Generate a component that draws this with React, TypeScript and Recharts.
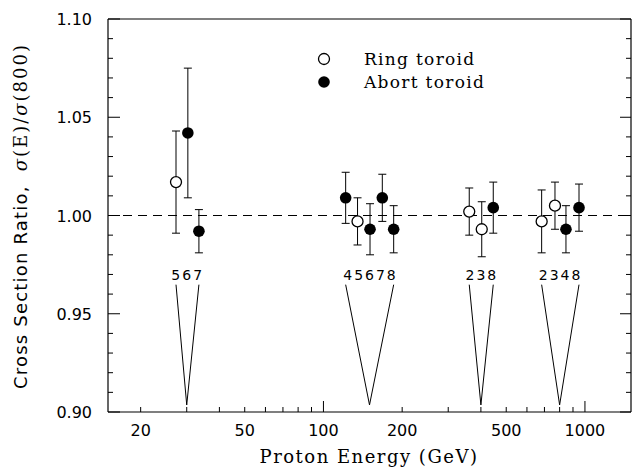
import React from "react";
import {
  ScatterChart,
  Scatter,
  XAxis,
  YAxis,
  ErrorBar,
  ReferenceLine,
  Customized,
} from "recharts";

// ring toroid (open circles)
const ringEnergy = [27.3, 135, 361, 403, 683, 768];
const ringRatio = [1.017, 0.997, 1.002, 0.993, 0.997, 1.005];
const ringError = [0.026, 0.012, 0.012, 0.014, 0.016, 0.012];

// abort toroid (filled circles)
const abortEnergy = [30.3, 33.4, 121.6, 150.7, 167.9, 185.6, 446, 846, 949];
const abortRatio = [1.042, 0.992, 1.009, 0.993, 1.009, 0.993, 1.004, 0.993, 1.004];
const abortError = [0.033, 0.011, 0.013, 0.013, 0.012, 0.012, 0.013, 0.012, 0.012];

// run groups drawn as V markers under the points
const groupLabel = ["567", "45678", "238", "2348"];
const groupRefEnergy = [30, 150, 400, 800];
const groupLowEnergy = [27.3, 121.6, 361, 683];
const groupHighEnergy = [33.4, 185.6, 446, 949];
const groupLabelRatio = 0.967;
const groupTopRatio = 0.9648;
const groupTipRatio = 0.9036;

const xTicks = [20, 30, 40, 50, 60, 70, 80, 90, 100, 200, 300, 400, 500, 600, 700, 800, 900, 1000];
const xLabels = [20, 50, 100, 200, 500, 1000];
const xMajor = [100, 1000];
const yTicks = [
  0.9, 0.91, 0.92, 0.93, 0.94, 0.95, 0.96, 0.97, 0.98, 0.99, 1.0,
  1.01, 1.02, 1.03, 1.04, 1.05, 1.06, 1.07, 1.08, 1.09, 1.1,
];

const SANS = "DejaVu Sans";
const SERIF = "DejaVu Serif";

const ringData = ringEnergy.map((e, i) => ({ energy: e, ratio: ringRatio[i], err: ringError[i] }));
const abortData = abortEnergy.map((e, i) => ({ energy: e, ratio: abortRatio[i], err: abortError[i] }));
const labelData = groupLabel.map((l, i) => ({ energy: groupRefEnergy[i], ratio: groupLabelRatio, label: l }));

const isMajorY = (v: number) => Math.round(v * 100) % 5 === 0;

function BottomTick({ x, y, payload }: any) {
  const v = payload.value;
  return (
    <g>
      <line x1={x} x2={x} y1={y} y2={y - (xMajor.includes(v) ? 11 : 5)} stroke="#000" strokeWidth={1} />
      {xLabels.includes(v) && (
        <text x={x} y={y + 24} textAnchor="middle" fontFamily={SANS} fontSize={16} fill="#000">
          {v}
        </text>
      )}
    </g>
  );
}

function TopTick({ x, y, payload }: any) {
  const v = payload.value;
  return <line x1={x} x2={x} y1={y} y2={y + (xMajor.includes(v) ? 11 : 5)} stroke="#000" strokeWidth={1} />;
}

function LeftTick({ x, y, payload }: any) {
  const v = payload.value;
  const major = isMajorY(v);
  return (
    <g>
      <line x1={x} x2={x + (major ? 12 : 5)} y1={y} y2={y} stroke="#000" strokeWidth={1} />
      {major && (
        <text x={x - 16} y={y + 6} textAnchor="end" fontFamily={SANS} fontSize={16} fill="#000">
          {v.toFixed(2)}
        </text>
      )}
    </g>
  );
}

function RightTick({ x, y, payload }: any) {
  const v = payload.value;
  return <line x1={x} x2={x - (isMajorY(v) ? 11 : 5)} y1={y} y2={y} stroke="#000" strokeWidth={1} />;
}

const OpenDot = (p: any) => (
  <circle cx={p.cx} cy={p.cy} r={5.5} fill="#fff" stroke="#000" strokeWidth={1.3} />
);
const FilledDot = (p: any) => <circle cx={p.cx} cy={p.cy} r={5.8} fill="#000" />;
const GroupText = (p: any) => (
  <text x={p.cx + 1} y={p.cy} textAnchor="middle" fontFamily={SANS} fontSize={14} letterSpacing={2} fill="#000">
    {p.payload.label}
  </text>
);

function Titles() {
  return (
    <g fill="#000">
      <text transform="translate(27,216) rotate(-90)" textAnchor="middle" fontSize={18}>
        <tspan fontFamily={SANS} letterSpacing={1.2}>Cross Section Ratio,</tspan>
        <tspan dx={14} fontFamily={SERIF} fontStyle="italic" letterSpacing={2}>σ</tspan>
        <tspan fontFamily={SERIF} letterSpacing={2}>(E)/</tspan>
        <tspan fontFamily={SERIF} fontStyle="italic" letterSpacing={2}>σ</tspan>
        <tspan fontFamily={SERIF} letterSpacing={2}>(800)</tspan>
      </text>
      <text x={369} y={463} textAnchor="middle" fontFamily={SERIF} fontSize={18} letterSpacing={1.5}>
        Proton Energy (GeV)
      </text>
      <circle cx={324} cy={59} r={5.5} fill="#fff" stroke="#000" strokeWidth={1.3} />
      <circle cx={324} cy={82} r={5.8} fill="#000" />
      <text x={364} y={64.5} fontFamily={SERIF} fontSize={17} letterSpacing={1.3}>Ring toroid</text>
      <text x={364} y={87.5} fontFamily={SERIF} fontSize={17} letterSpacing={1.3}>Abort toroid</text>
    </g>
  );
}

const axisLine = { stroke: "#000", strokeWidth: 1.2 };

export default function App() {
  return (
    <div style={{ position: "absolute", left: 0, top: 0, background: "#fff" }}>
      <ScatterChart width={632} height={471} margin={{ top: 0, right: 0, bottom: 0, left: 0 }}>
        <XAxis
          xAxisId={0}
          dataKey="energy"
          type="number"
          scale="log"
          domain={[15, 1500]}
          allowDataOverflow
          ticks={xTicks}
          interval={0}
          tickSize={0}
          tickMargin={0}
          tick={BottomTick}
          height={59}
          axisLine={axisLine}
          tickLine={false}
        />
        <XAxis
          xAxisId="top"
          orientation="top"
          type="number"
          scale="log"
          domain={[15, 1500]}
          allowDataOverflow
          ticks={xTicks}
          interval={0}
          tickSize={0}
          tickMargin={0}
          tick={TopTick}
          height={19}
          axisLine={axisLine}
          tickLine={false}
        />
        <YAxis
          yAxisId={0}
          dataKey="ratio"
          type="number"
          domain={[0.9, 1.1]}
          allowDataOverflow
          ticks={yTicks}
          interval={0}
          tickSize={0}
          tickMargin={0}
          tick={LeftTick}
          width={108}
          axisLine={axisLine}
          tickLine={false}
        />
        <YAxis
          yAxisId="right"
          orientation="right"
          type="number"
          domain={[0.9, 1.1]}
          allowDataOverflow
          ticks={yTicks}
          interval={0}
          tickSize={0}
          tickMargin={0}
          tick={RightTick}
          width={1}
          axisLine={axisLine}
          tickLine={false}
        />
        <ReferenceLine y={1} stroke="#000" strokeWidth={1} strokeDasharray="9 6" />
        {groupLabel.map((l, i) => (
          <ReferenceLine
            key={`a${l}`}
            segment={[
              { x: groupLowEnergy[i], y: groupTopRatio },
              { x: groupRefEnergy[i], y: groupTipRatio },
            ]}
            stroke="#000"
            strokeWidth={1}
            ifOverflow="visible"
          />
        ))}
        {groupLabel.map((l, i) => (
          <ReferenceLine
            key={`b${l}`}
            segment={[
              { x: groupRefEnergy[i], y: groupTipRatio },
              { x: groupHighEnergy[i], y: groupTopRatio },
            ]}
            stroke="#000"
            strokeWidth={1}
            ifOverflow="visible"
          />
        ))}
        <Scatter data={labelData} shape={GroupText} isAnimationActive={false} />
        <Scatter name="Ring toroid" data={ringData} shape={OpenDot} isAnimationActive={false}>
          <ErrorBar dataKey="err" direction="y" width={4} stroke="#000" strokeWidth={1} isAnimationActive={false} />
        </Scatter>
        <Scatter name="Abort toroid" data={abortData} shape={FilledDot} isAnimationActive={false}>
          <ErrorBar dataKey="err" direction="y" width={4} stroke="#000" strokeWidth={1} isAnimationActive={false} />
        </Scatter>
        <Customized component={Titles} />
      </ScatterChart>
    </div>
  );
}
